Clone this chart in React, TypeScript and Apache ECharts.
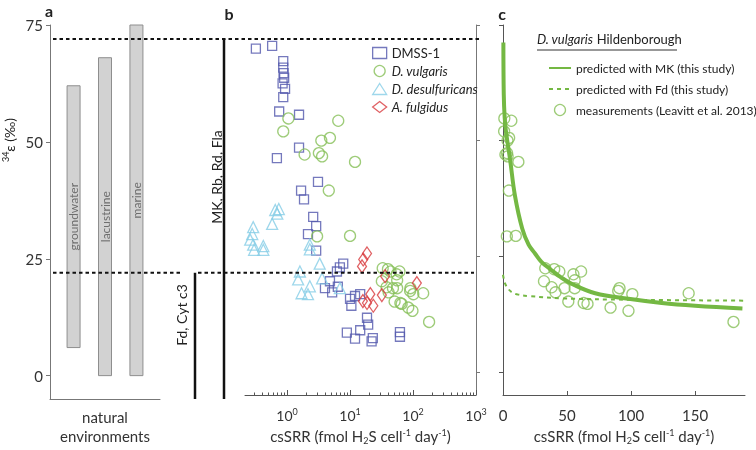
import React, { useEffect, useRef } from 'react';
import * as echarts from 'echarts';

// ---------- data ----------
const envCategories = ['groundwater', 'lacustrine', 'marine'];
const envLow = [6, 0, 0];
const envHigh = [62, 68, 75];

const epsTicks = [0, 25, 50, 75];
const logTicks = [1, 10, 100, 1000];
const linTicks = [0, 50, 100, 150];

const mkLevel = 72;
const fdLevel = 22;

// csSRR (fmol H2S cell-1 day-1), 34epsilon (permil)
const dmss1: number[][] = [
  [0.32, 69.9], [0.58, 70.5], [0.87, 67.2], [0.87, 65.8], [0.88, 64.6], [0.9, 63.6], [0.85, 62.4],
  [0.93, 61.2], [0.87, 59.4], [0.75, 56.3], [1.55, 55.6], [1.55, 48.5], [0.69, 46.2], [3.1, 41.1],
  [1.67, 39.2], [1.86, 37.3], [2.6, 33.5], [2.9, 31.5], [2.15, 29.8], [2.9, 26.2], [6.9, 22.6],
  [6.2, 21.7], [7.8, 23.4], [4.8, 19.6], [4.0, 18.1], [5.2, 17.2], [6.4, 18.4], [10, 15.8],
  [10.5, 14.3], [12, 16.4], [14.5, 16.8], [18.6, 11.7], [19.4, 10.2], [8.9, 8.5], [12, 7.2],
  [14.5, 9], [22, 6.6], [23, 7.3], [62, 8.6], [62, 7.6],
];
const vulgaris: number[][] = [
  [1.05, 54.8], [6.5, 54.3], [0.87, 52], [3.5, 50], [4.8, 50.6], [1.9, 47], [3.2, 47.3], [3.6, 46.6],
  [12, 45.4], [4.6, 39.2], [3, 29.3], [10, 29.4], [33, 22.4], [40, 22.2], [44, 21.7], [55, 21.1],
  [61, 21.7], [56, 19.8], [32, 19.6], [38, 18.3], [41, 17.2], [48, 18.1], [56, 18.1], [91, 18.1],
  [90, 17.5], [101, 16.8], [145, 17], [51, 15.2], [63, 14.9], [66, 14.7], [84, 13.9], [98, 13.2],
  [180, 10.8],
];
const desulfuricans: number[][] = [
  [0.65, 35], [0.74, 35.2], [0.7, 34.2], [0.58, 32], [0.29, 31.3], [0.28, 29.8], [0.26, 28.6],
  [0.29, 27.5], [0.42, 27.2], [0.3, 26.4], [0.42, 26.4], [2.3, 27.5], [2.3, 26.5], [3.3, 23.4],
  [1.6, 21.7], [1.5, 20], [3.6, 20.2], [2.3, 18.5], [1.7, 17], [2.15, 16.8], [6.9, 18.1],
];
const fulgidus: number[][] = [
  [18.6, 25.6], [16.2, 24.3], [15.5, 22.8], [36, 20.7], [115, 19.2], [21, 16.8], [32, 16.6],
  [16, 15.3], [18.6, 14.9], [23.4, 14.3],
];
const mkCurve: number[][] = [
  [0.3, 71.2], [0.6, 60], [1.3, 55], [2.3, 52], [5.5, 46], [9.4, 38], [15, 31], [20, 27.5],
  [25, 25.6], [30, 23.8], [37, 22.2], [45, 20.5], [54, 19], [72, 17], [98, 15.8], [124, 14.9],
  [150, 14.3], [187, 13.7],
];
const fdCurve: number[][] = [
  [0, 21], [1.5, 19.2], [4, 18], [7, 17.2], [12, 16.7], [20, 16.4], [46, 15.9], [98, 15.6], [189, 15.4],
];

const FONT = 'Lato, "Open Sans", sans-serif';
const C_DMSS = '#5258ad';
const C_VULG = '#86bf58';
const C_DES = '#86cde6';
const C_FUL = '#d83a3d';
const C_LINE = '#74b843';
const NAME_MK = 'predicted with MK (this study)';
const NAME_FD = 'predicted with Fd (this study)';
const NAME_MEAS = 'measurements (Leavitt et al. 2013)';

const minorLog: number[] = [];
[0.1, 1, 10, 100].forEach((d) => {
  for (let k = 2; k <= 9; k++) minorLog.push(d * k);
});

const axisNameRich = {
  sub: { fontSize: 9, padding: [9, 0, 0, 0], color: '#333', fontFamily: FONT },
  sup: { fontSize: 9, padding: [0, 0, 8, 0], color: '#333', fontFamily: FONT },
};

export default function App() {
  const ref = useRef<HTMLDivElement>(null);
  useEffect(() => {
    if (!ref.current) return;
    const chart = echarts.init(ref.current, undefined, { renderer: 'svg' });
    const hollow = (color: string) => ({ color: 'rgba(255,255,255,0)', borderColor: color, borderWidth: 1.3 });
    const noSymbol = { color: 'rgba(255,255,255,0)', borderWidth: 0, borderColor: 'rgba(255,255,255,0)' };
    const yBase = { min: -5, max: 75, splitLine: { show: false } };
    const option: any = {
      animation: false,
      textStyle: { fontFamily: FONT },
      grid: [
        { left: 50, top: 25, width: 110, height: 375.5 },
        { left: 245, top: 25, width: 231, height: 375.5 },
        { left: 503, top: 25, width: 242, height: 375.5 },
      ],
      xAxis: [
        {
          gridIndex: 0, type: 'value', min: -0.75, max: 2.75, position: 'bottom',
          axisLine: { onZero: false, lineStyle: { color: '#777' } }, axisTick: { show: false },
          axisLabel: { show: false }, splitLine: { show: false },
          name: 'natural\nenvironments', nameLocation: 'middle', nameGap: 8,
          nameTextStyle: { fontSize: 15, lineHeight: 19, color: '#333', verticalAlign: 'top' },
        },
        {
          gridIndex: 1, type: 'log', logBase: 10, min: 0.215, max: 1000, position: 'bottom',
          axisLine: { onZero: false, lineStyle: { color: '#555' } },
          axisTick: { inside: true, length: 5, customValues: logTicks, lineStyle: { color: '#555' } },
          axisLabel: {
            customValues: logTicks, fontSize: 14, color: '#333', margin: 12,
            formatter: (v: number) => `10{s|${Math.round(Math.log10(v))}}`,
            rich: { s: { fontSize: 9, padding: [0, 0, 7, 0], color: '#333' } },
          },
          splitLine: { show: false },
          name: 'csSRR (fmol H{sub|2}S cell{sup|-1} day{sup|-1})', nameLocation: 'middle', nameGap: 32,
          nameTextStyle: { fontSize: 15, color: '#333', rich: axisNameRich },
        },
        {
          gridIndex: 1, type: 'log', logBase: 10, min: 0.215, max: 1000, position: 'bottom',
          axisLine: { show: false, onZero: false },
          axisTick: { inside: true, length: 2.5, customValues: minorLog, lineStyle: { color: '#555' } },
          axisLabel: { show: false }, splitLine: { show: false },
        },
        {
          gridIndex: 2, type: 'value', min: 0, max: 189, position: 'bottom',
          axisLine: { onZero: false, lineStyle: { color: '#555' } },
          axisTick: { inside: true, length: 4, customValues: linTicks, lineStyle: { color: '#555' } },
          axisLabel: { customValues: linTicks, fontSize: 15, color: '#333', margin: 12 },
          splitLine: { show: false },
          name: 'csSRR (fmol H{sub|2}S cell{sup|-1} day{sup|-1})', nameLocation: 'middle', nameGap: 32,
          nameTextStyle: { fontSize: 15, color: '#333', rich: axisNameRich },
        },
      ],
      yAxis: [
        {
          gridIndex: 0, position: 'left', ...yBase,
          axisLine: { show: true, onZero: false, lineStyle: { color: '#777' } },
          axisTick: { show: true, length: 4, customValues: epsTicks, lineStyle: { color: '#777' } },
          axisLabel: { customValues: epsTicks, fontSize: 15, color: '#333', margin: 7 },
        },
        {
          gridIndex: 1, position: 'right', ...yBase,
          axisLine: { show: true, onZero: false, lineStyle: { color: '#777' } },
          axisTick: { show: true, length: 4, customValues: epsTicks, lineStyle: { color: '#777' } },
          axisLabel: { show: false },
        },
        {
          gridIndex: 2, position: 'left', ...yBase,
          axisLine: { show: true, onZero: false, lineStyle: { color: '#555' } },
          axisTick: { show: true, length: 4, customValues: epsTicks, lineStyle: { color: '#555' } },
          axisLabel: { show: false },
        },
      ],
      legend: [
        {
          orient: 'vertical', left: 367, top: 41, itemWidth: 14, itemHeight: 11, itemGap: 4,
          selectedMode: false,
          textStyle: { fontSize: 13, color: '#222', lineHeight: 14, rich: { i: { fontStyle: 'italic', fontSize: 13, color: '#222' } } },
          formatter: (n: string) => (n === 'DMSS-1' ? n : `{i|${n}}`),
          data: [
            { name: 'DMSS-1', icon: 'rect', itemStyle: hollow(C_DMSS) },
            { name: 'D. vulgaris', icon: 'circle', itemStyle: hollow(C_VULG) },
            { name: 'D. desulfuricans', icon: 'triangle', itemStyle: hollow(C_DES) },
            { name: 'A. fulgidus', icon: 'diamond', itemStyle: hollow(C_FUL) },
          ],
        },
        {
          orient: 'vertical', left: 543, top: 56, itemWidth: 22, itemHeight: 11, itemGap: 7,
          selectedMode: false,
          textStyle: { fontSize: 12, color: '#222', lineHeight: 14 },
          data: [
            { name: NAME_MK, itemStyle: noSymbol },
            { name: NAME_FD, itemStyle: noSymbol },
            { name: NAME_MEAS, icon: 'circle', itemStyle: hollow(C_VULG) },
          ],
        },
      ],
      series: [
        {
          type: 'custom', xAxisIndex: 0, yAxisIndex: 0, silent: true,
          data: envCategories.map((c, i) => [i, envLow[i], envHigh[i]]),
          renderItem: (params: any, api: any) => {
            const i = api.value(0);
            const top = api.coord([i, api.value(2)]);
            const bot = api.coord([i, api.value(1)]);
            const w = 13;
            return {
              type: 'group',
              children: [
                { type: 'rect', shape: { x: top[0] - w / 2, y: top[1], width: w, height: bot[1] - top[1] },
                  style: { fill: '#d2d2d2', stroke: '#8e8e8e', lineWidth: 1 } },
                { type: 'text', x: top[0], y: (top[1] + bot[1]) / 2, rotation: Math.PI / 2,
                  style: { text: envCategories[i], fill: '#6e6e6e', fontSize: 12, fontFamily: FONT, align: 'center', verticalAlign: 'middle' } },
              ],
            };
          },
        },
        { name: 'DMSS-1', type: 'scatter', xAxisIndex: 1, yAxisIndex: 1, symbol: 'rect', symbolSize: 9, data: dmss1, itemStyle: hollow(C_DMSS) },
        { name: 'D. vulgaris', type: 'scatter', xAxisIndex: 1, yAxisIndex: 1, symbol: 'circle', symbolSize: 11, data: vulgaris, itemStyle: hollow(C_VULG) },
        { name: 'D. desulfuricans', type: 'scatter', xAxisIndex: 1, yAxisIndex: 1, symbol: 'triangle', symbolSize: 11, data: desulfuricans, itemStyle: hollow(C_DES) },
        { name: 'A. fulgidus', type: 'scatter', xAxisIndex: 1, yAxisIndex: 1, symbol: 'diamond', symbolSize: [9, 13], data: fulgidus, itemStyle: hollow(C_FUL) },
        { name: NAME_MEAS, type: 'scatter', xAxisIndex: 3, yAxisIndex: 2, symbol: 'circle', symbolSize: 11, data: vulgaris, itemStyle: hollow(C_VULG) },
        { name: NAME_FD, type: 'line', xAxisIndex: 3, yAxisIndex: 2, symbol: 'none', smooth: 0.4, data: fdCurve,
          lineStyle: { color: C_LINE, width: 2, type: [4, 4] }, itemStyle: { color: C_LINE } },
        { name: NAME_MK, type: 'line', xAxisIndex: 3, yAxisIndex: 2, symbol: 'none', smooth: 0.4, data: mkCurve,
          lineStyle: { color: C_LINE, width: 4 }, itemStyle: { color: C_LINE } },
      ],
    };
    chart.setOption(option);

    const yMk = chart.convertToPixel({ yAxisIndex: 0 }, mkLevel) as number;
    const yFd = chart.convertToPixel({ yAxisIndex: 0 }, fdLevel) as number;
    const yBot = chart.convertToPixel({ yAxisIndex: 0 }, -5) as number;
    const dash = { stroke: '#111', lineWidth: 2, lineDash: [3.5, 3] };
    const bold = (text: string, x: number, y: number) => ({
      type: 'text', x, y,
      style: { text, fontSize: 16, fontWeight: 'bold', fontFamily: FONT, fill: '#222', align: 'center', verticalAlign: 'middle' },
    });
    chart.setOption({
      graphic: [
        { type: 'line', shape: { x1: 53, y1: yMk, x2: 482, y2: yMk }, style: dash, z: 10 },
        { type: 'line', shape: { x1: 53, y1: yFd, x2: 182, y2: yFd }, style: dash, z: 10 },
        { type: 'line', shape: { x1: 198, y1: yFd, x2: 474, y2: yFd }, style: dash, z: 10 },
        { type: 'line', shape: { x1: 224, y1: yMk, x2: 224, y2: yBot }, style: { stroke: '#111', lineWidth: 2.5 } },
        { type: 'line', shape: { x1: 195, y1: yFd, x2: 195, y2: yBot }, style: { stroke: '#111', lineWidth: 2.5 } },
        { type: 'text', x: 216, y: 177, rotation: Math.PI / 2,
          style: { text: 'MK, Rb, Rd, Fla', fontSize: 14, fontFamily: FONT, fill: '#222', align: 'center', verticalAlign: 'middle' } },
        { type: 'text', x: 181, y: 315, rotation: Math.PI / 2,
          style: { text: 'Fd, Cyt c3', fontSize: 14, fontFamily: FONT, fill: '#222', align: 'center', verticalAlign: 'middle' } },
        { type: 'text', x: 9, y: 140, rotation: Math.PI / 2,
          style: { text: '{s|34}ε (‰)', fontSize: 14, fontFamily: FONT, fill: '#222', align: 'center', verticalAlign: 'middle',
            rich: { s: { fontSize: 9, padding: [0, 0, 7, 0], fontFamily: FONT, fill: '#222' } } } },
        bold('a', 49, 10),
        bold('b', 229, 13),
        bold('c', 502, 13),
        { type: 'text', x: 537, y: 39,
          style: { text: '{i|D. vulgaris} Hildenborough', fontSize: 13, fontFamily: FONT, fill: '#222', align: 'left', verticalAlign: 'middle',
            rich: { i: { fontStyle: 'italic', fontSize: 13, fontFamily: FONT, fill: '#222' } } } },
        { type: 'line', shape: { x1: 537, y1: 50, x2: 677, y2: 50 }, style: { stroke: '#333', lineWidth: 1 } },
      ],
    });
    return () => chart.dispose();
  }, []);
  return <div ref={ref} style={{ position: 'fixed', left: 0, top: 0, width: 756, height: 450 }} />;
}
